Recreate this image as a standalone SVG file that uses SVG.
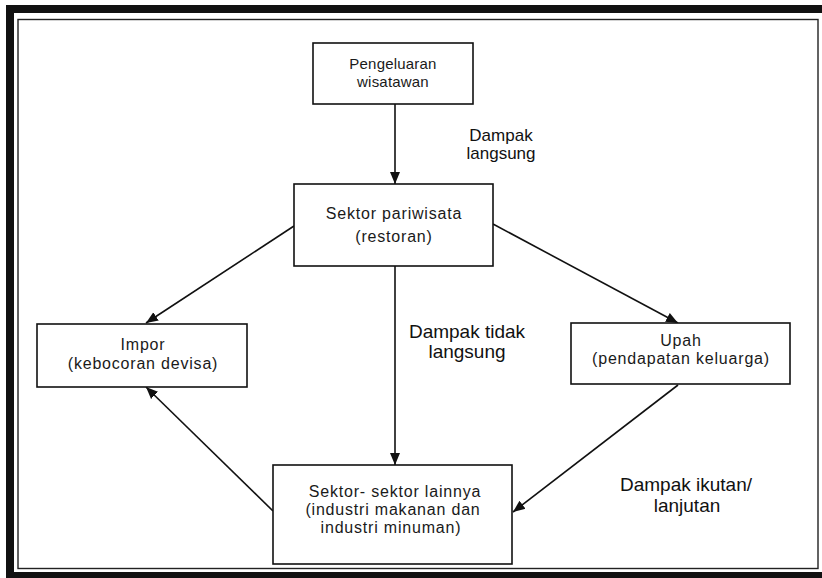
<svg xmlns="http://www.w3.org/2000/svg" width="822" height="578" viewBox="0 0 822 578">
<defs>
<style>
.box{fill:#fff;stroke:#111;stroke-width:1.6}
.nt{font-family:"Liberation Sans",Arial,sans-serif;font-size:16px;letter-spacing:0.8px;fill:#1a1a1a;text-anchor:middle}
.lb{font-family:"Liberation Sans",Arial,sans-serif;font-size:19px;fill:#111;text-anchor:middle}
.ln{stroke:#111;stroke-width:1.6;fill:none;marker-end:url(#ah)}
</style>
<marker id="ah" markerUnits="userSpaceOnUse" markerWidth="14" markerHeight="12" refX="12" refY="5" orient="auto" viewBox="0 0 14 10">
<path d="M0,0 L12,5 L0,10 Z" fill="#111"/>
</marker>
</defs>
<rect x="0" y="0" width="822" height="578" fill="#fff"/>
<g id="frame">
<rect x="6" y="5" width="816" height="573" fill="#111"/>
<rect x="14" y="13" width="808" height="559" fill="#fff"/>
<rect x="18" y="19.5" width="800" height="549" fill="none" stroke="#222" stroke-width="1.4"/>
</g>
<g id="connectors">
<line class="ln" x1="395" y1="104" x2="395" y2="184"/>
<line class="ln" x1="294" y1="226" x2="146" y2="323"/>
<line class="ln" x1="493" y1="224" x2="678" y2="323"/>
<line class="ln" x1="395" y1="266" x2="395" y2="465"/>
<line class="ln" x1="678" y1="385" x2="513" y2="512"/>
<line class="ln" x1="273" y1="511" x2="146" y2="387"/>
</g>
<g id="node-pengeluaran">
<rect class="box" x="313" y="43" width="160" height="61"/>
<text class="nt" x="393" y="69" style="font-size:15px;letter-spacing:0.2px">Pengeluaran</text>
<text class="nt" x="393" y="87" style="font-size:15px;letter-spacing:0.2px">wisatawan</text>
</g>
<g id="node-sektor-pariwisata">
<rect class="box" x="294" y="184" width="199" height="82"/>
<text class="nt" x="394" y="219">Sektor pariwisata</text>
<text class="nt" x="394" y="242">(restoran)</text>
</g>
<g id="node-impor">
<rect class="box" x="37" y="324" width="210" height="63"/>
<text class="nt" x="143" y="350">Impor</text>
<text class="nt" x="143" y="369">(kebocoran devisa)</text>
</g>
<g id="node-upah">
<rect class="box" x="571" y="323" width="219" height="61"/>
<text class="nt" x="681" y="346">Upah</text>
<text class="nt" x="681" y="364">(pendapatan keluarga)</text>
</g>
<g id="node-sektor-lainnya">
<rect class="box" x="273" y="465" width="239" height="99"/>
<text class="nt" x="395" y="497">Sektor- sektor lainnya</text>
<text class="nt" x="393" y="515">(industri makanan dan</text>
<text class="nt" x="391" y="533">industri minuman)</text>
</g>
<g id="labels">
<text class="lb" x="501" y="141" style="font-size:17px">Dampak</text>
<text class="lb" x="501" y="159" style="font-size:17px">langsung</text>
<text class="lb" x="467" y="338">Dampak tidak</text>
<text class="lb" x="467" y="358">langsung</text>
<text class="lb" x="686" y="491">Dampak ikutan/</text>
<text class="lb" x="687" y="512">lanjutan</text>
</g>
</svg>
